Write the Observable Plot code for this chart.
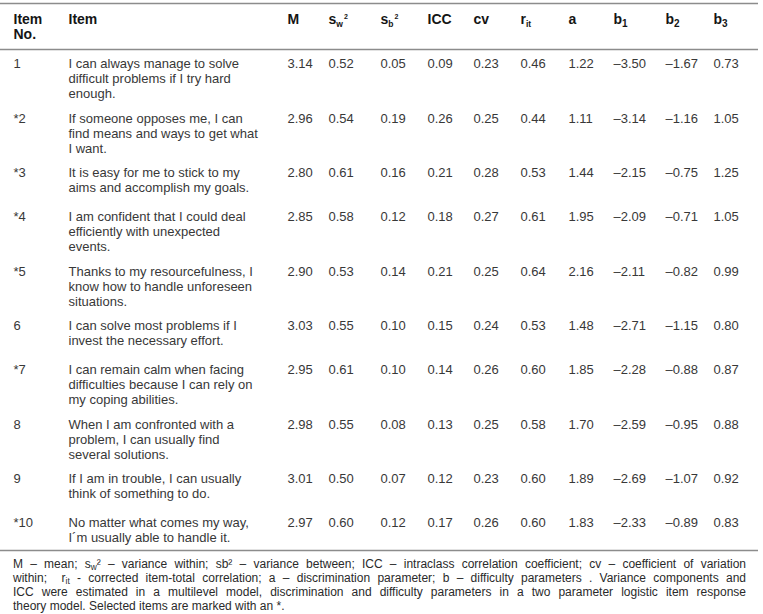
<!DOCTYPE html>
<html>
<head>
<meta charset="utf-8">
<script src="https://cdn.jsdelivr.net/npm/d3@7"></script>
<script src="https://cdn.jsdelivr.net/npm/@observablehq/plot@0.6"></script>
<style>
  html, body { margin: 0; padding: 0; background: #fff; }
  #chart svg { display: block; }
  #note {
    font-family: "Liberation Sans", Arial, sans-serif;
    font-size: 12px;
    line-height: 14px;
    color: #2a2a2a;
    padding: 5px 0 0 13px;
    width: 733px;
  }
  #note div { text-align: justify; text-align-last: justify; white-space: normal; }
  #note div:last-child { text-align-last: left; }
  #note sub { font-size: 70%; line-height: 0; vertical-align: -0.25em; }
</style>
</head>
<body>
<div id="chart"></div>
<div id="note"></div>
<script>
// ---------- data ----------
const itemNo = ["1", "*2", "*3", "*4", "*5", "6", "*7", "8", "9", "*10"];
const itemText = [
  "I can always manage to solve\ndifficult problems if I try hard\nenough.",
  "If someone opposes me, I can\nfind means and ways to get what\nI want.",
  "It is easy for me to stick to my\naims and accomplish my goals.",
  "I am confident that I could deal\nefficiently with unexpected\nevents.",
  "Thanks to my resourcefulness, I\nknow how to handle unforeseen\nsituations.",
  "I can solve most problems if I\ninvest the necessary effort.",
  "I can remain calm when facing\ndifficulties because I can rely on\nmy coping abilities.",
  "When I am confronted with a\nproblem, I can usually find\nseveral solutions.",
  "If I am in trouble, I can usually\nthink of something to do.",
  "No matter what comes my way,\nI´m usually able to handle it."
];
const M   = [3.14, 2.96, 2.80, 2.85, 2.90, 3.03, 2.95, 2.98, 3.01, 2.97];
const sw2 = [0.52, 0.54, 0.61, 0.58, 0.53, 0.55, 0.61, 0.55, 0.50, 0.60];
const sb2 = [0.05, 0.19, 0.16, 0.12, 0.14, 0.10, 0.10, 0.08, 0.07, 0.12];
const ICC = [0.09, 0.26, 0.21, 0.18, 0.21, 0.15, 0.14, 0.13, 0.12, 0.17];
const cv  = [0.23, 0.25, 0.28, 0.27, 0.25, 0.24, 0.26, 0.25, 0.23, 0.26];
const rit = [0.46, 0.44, 0.53, 0.61, 0.64, 0.53, 0.60, 0.58, 0.60, 0.60];
const a   = [1.22, 1.11, 1.44, 1.95, 2.16, 1.48, 1.85, 1.70, 1.89, 1.83];
const b1  = [-3.50, -3.14, -2.15, -2.09, -2.11, -2.71, -2.28, -2.59, -2.69, -2.33];
const b2  = [-1.67, -1.16, -0.75, -0.71, -0.82, -1.15, -0.88, -0.95, -1.07, -0.89];
const b3  = [0.73, 1.05, 1.25, 1.05, 0.99, 0.80, 0.87, 0.88, 0.92, 0.83];

const columnKeys   = ["no", "item", "M", "sw2", "sb2", "ICC", "cv", "rit", "a", "b1", "b2", "b3"];
const headerLabels = ["Item\nNo.", "Item", "M", "s_w^2", "s_b^2", "ICC", "cv", "r_it", "a", "b_1", "b_2", "b_3"];

const footnoteLines = [
  "M – mean; s<sub>w</sub>² – variance within; sb² – variance between; ICC – intraclass correlation coefficient; cv – coefficient of variation",
  "within;&nbsp; r<sub>it</sub> - corrected item-total correlation; a – discrimination parameter; b – difficulty parameters . Variance components and",
  "ICC were estimated in a multilevel model, discrimination and difficulty parameters in a two parameter logistic item response",
  "theory model. Selected items are marked with an *."
];

// ---------- layout (not data) ----------
const LAYOUT = {
  width: 763,
  colLeft: {no: 13, item: 68, M: 287, sw2: 328, sb2: 380, ICC: 427, cv: 473, rit: 520, a: 568, b1: 613, b2: 665, b3: 713},
  topRule: 3,
  headCenter: 18.5,
  headLine: 15,
  headRule: 49,
  row1Center: 62,
  line: 15,
  gap: 9.5,
  minRow: 44,
  bottomPad: 14,
  ruleRight: 758,
  bodySize: 13,
  headSize: 14
};

const numeric = {M, sw2, sb2, ICC, cv, rit, a, b1, b2, b3};
const fmt = v => d3.format(".2f")(v).replace("−", "–").replace("-", "–");

// row vertical offsets derived from the number of text lines in each row
const rowLines = itemText.map(t => t.split("\n").length);
const rowCenter = [];
{
  let acc = LAYOUT.row1Center;
  rowLines.forEach(n => { rowCenter.push(acc); acc += Math.max(n * LAYOUT.line + LAYOUT.gap, LAYOUT.minRow); });
}
const lastCenter = rowCenter[rowCenter.length - 1] + (rowLines[rowLines.length - 1] - 1) * LAYOUT.line;
const bottomRule = lastCenter + LAYOUT.bottomPad;
const height = Math.ceil(bottomRule + 2);

// cells
const header = columnKeys.map((k, j) => ({col: k, text: headerLabels[j]}));
const body = [];
itemNo.forEach((no, i) => {
  body.push({col: "no", row: i, text: no});
  body.push({col: "item", row: i, text: itemText[i]});
  for (const k of Object.keys(numeric)) body.push({col: k, row: i, text: fmt(numeric[k][i])});
});

const topOffset = size => 0.39 * size;

const chart = Plot.plot({
  width: LAYOUT.width,
  height,
  margin: 0,
  x: {type: "linear", domain: [0, LAYOUT.width], range: [0, LAYOUT.width], axis: null},
  y: {type: "linear", domain: [0, height], range: [0, height], axis: null},
  style: {fontFamily: "'Liberation Sans', Arial, sans-serif", background: "#fff"},
  marks: [
    Plot.ruleY([LAYOUT.topRule, LAYOUT.headRule, bottomRule], {
      y: d => d, x1: 0, x2: LAYOUT.ruleRight, stroke: "#8c8c8c", strokeWidth: 1.6
    }),
    Plot.text(header, {
      x: d => LAYOUT.colLeft[d.col],
      y: () => LAYOUT.headCenter - topOffset(LAYOUT.headSize),
      text: "text",
      textAnchor: "start",
      lineAnchor: "top",
      lineHeight: LAYOUT.headLine / LAYOUT.headSize,
      fontSize: LAYOUT.headSize,
      fontWeight: "bold",
      fill: "#151515"
    }),
    Plot.text(body, {
      x: d => LAYOUT.colLeft[d.col],
      y: d => rowCenter[d.row] - topOffset(LAYOUT.bodySize),
      text: "text",
      textAnchor: "start",
      lineAnchor: "top",
      lineHeight: LAYOUT.line / LAYOUT.bodySize,
      fontSize: LAYOUT.bodySize,
      fill: "#383838"
    })
  ]
});

// turn "s_w^2" style header labels into real sub/superscript text
d3.select(chart).selectAll("text").each(function () {
  if (this.querySelector("tspan")) return;
  const t = this.textContent;
  const m = t.match(/^([^_^]+)_([^_^]+)(?:\^(.+))?$/);
  if (!m) return;
  const sel = d3.select(this);
  sel.text(null);
  sel.append("tspan").text(m[1]);
  const isDigit = /^\d$/.test(m[2]);
  sel.append("tspan").attr("font-size", isDigit ? 10 : 8.5).attr("dy", 3).text(m[2]);
  if (m[3]) sel.append("tspan").attr("font-size", 7).attr("dy", -8.5).attr("dx", 1).text(m[3]);
});

document.getElementById("chart").appendChild(chart);
document.getElementById("note").innerHTML = footnoteLines.map(l => `<div>${l}</div>`).join("");
</script>
</body>
</html>
